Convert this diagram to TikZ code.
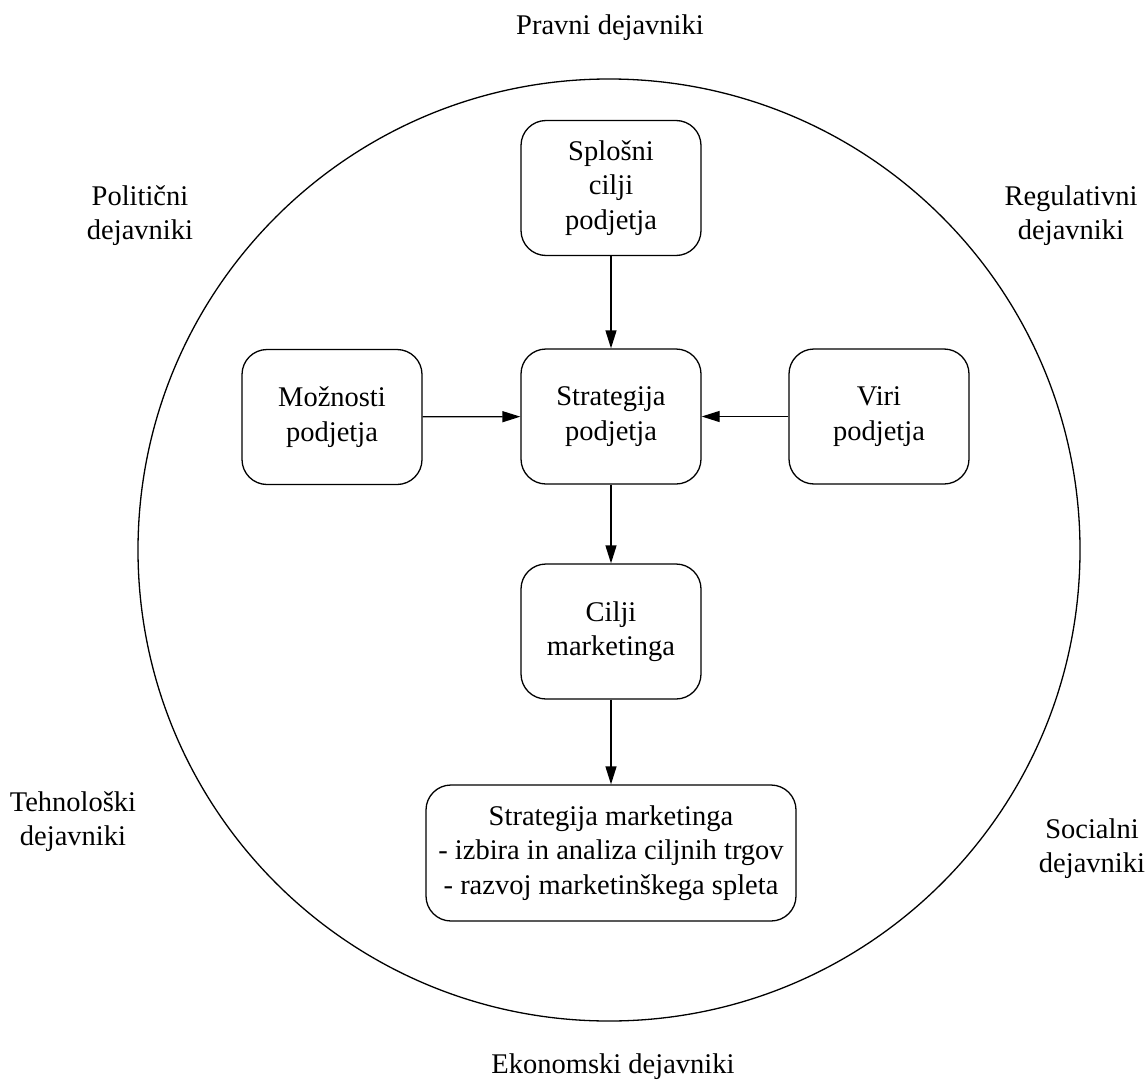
\documentclass[tikz,border=0pt]{standalone}
\usepackage{fontspec}
\setmainfont{Liberation Serif}
\usetikzlibrary{arrows.meta}
\tikzset{
  box/.style={draw, line width=0.65pt, rounded corners=12.5pt, align=center, inner sep=0pt,
    minimum width=90pt, minimum height=67.5pt, font=\fontsize{14.25pt}{17.25pt}\selectfont},
  label/.style={align=center, inner sep=0pt, font=\fontsize{14.25pt}{17pt}\selectfont},
  link/.style={line width=0.65pt, -{Triangle[length=9pt,width=5.5pt]}},
  ring/.style={draw, circle, line width=0.65pt, inner sep=0pt, minimum size=471pt}
}
\begin{document}
\begin{tikzpicture}[x=0.5pt,y=-0.5pt]
\useasboundingbox (0,0) rectangle (1145,1086);
\node[ring] (env) at (609,550) {};
\node[box] (splosni) at (611,188) {Splošni\\cilji\\podjetja};
\node[box] (strat) at (611,416.5) {Strategija\\podjetja};
\node[box] (moz) at (332,417) {Možnosti\\podjetja};
\node[box] (viri) at (879,416.5) {Viri\\podjetja};
\node[box] (cilji) at (611,631.5) {Cilji\\marketinga};
\node[box, minimum width=185pt, minimum height=68pt] (stratm) at (611,853) {Strategija marketinga\\- izbira in analiza ciljnih trgov\\- razvoj marketinškega spleta};
\draw[link] (splosni) -- (strat);
\draw[link] (moz) -- (strat);
\draw[link] (viri) -- (strat);
\draw[link] (strat) -- (cilji);
\draw[link] (cilji) -- (stratm);
\node[label] (pravni) at (610,28) {Pravni dejavniki};
\node[label] (politicni) at (140,216) {Politični\\dejavniki};
\node[label] (regulativni) at (1071,216) {Regulativni\\dejavniki};
\node[label] (tehnoloski) at (73,822) {Tehnološki\\dejavniki};
\node[label] (socialni) at (1092,849) {Socialni\\dejavniki};
\node[label] (ekonomski) at (613,1067) {Ekonomski dejavniki};
\end{tikzpicture}
\end{document}
